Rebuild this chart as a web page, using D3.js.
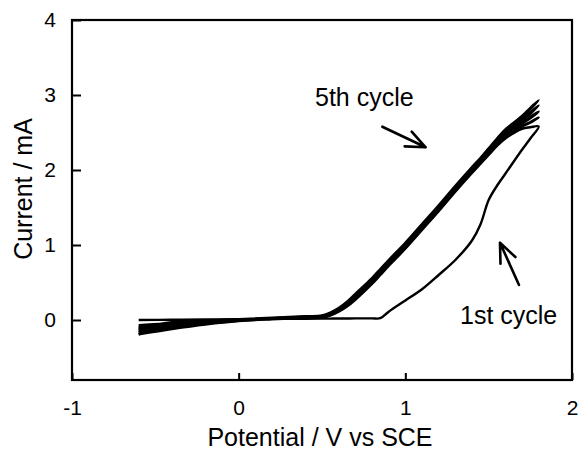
<!DOCTYPE html>
<html>
<head>
<meta charset="utf-8">
<script src="https://cdn.jsdelivr.net/npm/d3@7"></script>
<style>
  html, body { margin: 0; padding: 0; background: #fff; }
  svg { display: block; font-family: "Liberation Sans", Arial, sans-serif; }
</style>
</head>
<body>
<svg id="chart" width="579" height="454"></svg>
<script>
// Potential sweep grid (V vs SCE), shared by every half-cycle
const potential = [-0.6, -0.4, -0.2, 0, 0.2, 0.4, 0.5, 0.55, 0.6, 0.65, 0.7, 0.8, 0.85, 0.9,
                   1.0, 1.1, 1.2, 1.3, 1.4, 1.45, 1.5, 1.55, 1.6, 1.7, 1.75, 1.8];

// Current (mA) on the anodic (forward) and cathodic (reverse) sweeps of each cycle,
// listed in the order of the potential grid above.
const cycle1Forward = [0.00, 0.003, 0.006, 0.01, 0.013, 0.017, 0.018, 0.019, 0.02, 0.02, 0.021, 0.022, 0.024, 0.11,
                       0.26, 0.41, 0.60, 0.80, 1.06, 1.27, 1.60, 1.79, 1.95, 2.27, 2.42, 2.58];
const cycle1Reverse = [-0.19, -0.12, -0.06, -0.015, 0.01, 0.03, 0.04, 0.06, 0.11, 0.18, 0.27, 0.48, 0.60, 0.72,
                       0.95, 1.20, 1.45, 1.71, 1.96, 2.08, 2.20, 2.32, 2.42, 2.55, 2.57, 2.58];
const cycle2Forward = [-0.19, -0.06, -0.02, 0.00, 0.015, 0.035, 0.045, 0.07, 0.12, 0.19, 0.28, 0.49, 0.61, 0.73,
                       0.96, 1.21, 1.46, 1.72, 1.97, 2.09, 2.21, 2.33, 2.43, 2.58, 2.63, 2.70];
const cycle2Reverse = [-0.16, -0.10, -0.05, -0.01, 0.015, 0.035, 0.045, 0.07, 0.125, 0.20, 0.29, 0.50, 0.62, 0.74,
                       0.97, 1.22, 1.47, 1.73, 1.98, 2.10, 2.22, 2.34, 2.45, 2.59, 2.64, 2.70];
const cycle3Forward = [-0.16, -0.05, -0.015, 0.00, 0.02, 0.04, 0.05, 0.075, 0.13, 0.21, 0.30, 0.51, 0.63, 0.75,
                       0.98, 1.23, 1.48, 1.74, 1.99, 2.11, 2.23, 2.35, 2.46, 2.62, 2.69, 2.78];
const cycle3Reverse = [-0.13, -0.08, -0.04, -0.005, 0.02, 0.04, 0.05, 0.08, 0.14, 0.22, 0.31, 0.52, 0.64, 0.76,
                       0.99, 1.24, 1.49, 1.75, 2.00, 2.12, 2.24, 2.36, 2.48, 2.64, 2.71, 2.78];
const cycle4Forward = [-0.13, -0.04, -0.01, 0.005, 0.025, 0.045, 0.055, 0.085, 0.145, 0.23, 0.32, 0.53, 0.65, 0.77,
                       1.00, 1.25, 1.50, 1.76, 2.01, 2.13, 2.25, 2.37, 2.49, 2.66, 2.75, 2.86];
const cycle4Reverse = [-0.10, -0.06, -0.03, 0.00, 0.025, 0.045, 0.055, 0.09, 0.15, 0.235, 0.33, 0.54, 0.66, 0.78,
                       1.01, 1.26, 1.51, 1.77, 2.02, 2.14, 2.26, 2.39, 2.51, 2.68, 2.77, 2.86];
const cycle5Forward = [-0.10, -0.03, -0.005, 0.01, 0.03, 0.05, 0.06, 0.095, 0.155, 0.24, 0.34, 0.55, 0.67, 0.79,
                       1.02, 1.27, 1.52, 1.78, 2.03, 2.15, 2.27, 2.40, 2.52, 2.70, 2.81, 2.93];
const cycle5Reverse = [-0.07, -0.04, -0.02, 0.005, 0.03, 0.05, 0.06, 0.10, 0.16, 0.245, 0.35, 0.56, 0.68, 0.80,
                       1.03, 1.28, 1.53, 1.79, 2.04, 2.16, 2.29, 2.42, 2.54, 2.72, 2.83, 2.93];

const cycles = [
  [cycle1Forward, cycle1Reverse],
  [cycle2Forward, cycle2Reverse],
  [cycle3Forward, cycle3Reverse],
  [cycle4Forward, cycle4Reverse],
  [cycle5Forward, cycle5Reverse]
];

// Axis ticks
const xTicks = [-1, 0, 1, 2];
const yTicks = [0, 1, 2, 3, 4];

// Annotations (data coordinates)
const notes = [
  { text: "5th cycle", x: 0.458, y: 2.853, from: [0.862, 2.577], to: [1.122, 2.303] },
  { text: "1st cycle", x: 1.328, y: -0.053, from: [1.682, 0.467], to: [1.568, 1.03] }
];

const svg = d3.select("#chart");
const plotLeft = 72, plotRight = 572, plotTop = 20, plotBottom = 380;

const x = d3.scaleLinear().domain([-1, 2]).range([plotLeft, plotRight]);
const y = d3.scaleLinear().domain([-0.8, 4]).range([plotBottom, plotTop]);

// Voltammogram: each cycle sweeps forward to 1.8 V and back to -0.6 V
const line = d3.line()
  .x(d => x(d[0]))
  .y(d => y(d[1]))
  .curve(d3.curveCatmullRom.alpha(0.5));

cycles.forEach(([fwd, rev]) => {
  const pts = potential.map((v, i) => [v, fwd[i]]);
  const back = potential.map((v, i) => [v, rev[i]]).reverse().slice(1);
  svg.append("path")
    .attr("d", line(pts.concat(back)))
    .attr("fill", "none")
    .attr("stroke", "#000")
    .attr("stroke-width", 2.4)
    .attr("stroke-linejoin", "round");
});

// Axes with inward ticks
const xAxis = svg.append("g")
  .attr("transform", `translate(0,${plotBottom})`)
  .call(d3.axisBottom(x).tickValues(xTicks).tickFormat(d => String(d))
    .tickSizeInner(-7).tickSizeOuter(0).tickPadding(20));
const yAxis = svg.append("g")
  .attr("transform", `translate(${plotLeft},0)`)
  .call(d3.axisLeft(y).tickValues(yTicks).tickFormat(d => String(d))
    .tickSizeInner(-9).tickSizeOuter(0).tickPadding(16));

[xAxis, yAxis].forEach(g => {
  g.select(".domain").remove();
  g.selectAll(".tick line").attr("stroke", "#000").attr("stroke-width", 2);
  g.selectAll(".tick text").attr("fill", "#000").style("font-size", "21px")
    .style("font-family", "'Liberation Sans', Arial, sans-serif");
});

// Plot frame
svg.append("rect")
  .attr("x", plotLeft).attr("y", plotTop)
  .attr("width", plotRight - plotLeft).attr("height", plotBottom - plotTop)
  .attr("fill", "none").attr("stroke", "#000").attr("stroke-width", 2.2);

// Axis titles
svg.append("text")
  .attr("x", 320).attr("y", 446)
  .attr("text-anchor", "middle")
  .style("font-size", "25px")
  .text("Potential / V vs SCE");
svg.append("text")
  .attr("transform", "translate(32,189) rotate(-90)")
  .attr("text-anchor", "middle")
  .style("font-size", "25px")
  .text("Current / mA");

// Annotations with open arrowheads
notes.forEach(n => {
  svg.append("text")
    .attr("x", x(n.x)).attr("y", y(n.y))
    .style("font-size", "25px")
    .text(n.text);
  const x0 = x(n.from[0]), y0 = y(n.from[1]);
  const x1 = x(n.to[0]), y1 = y(n.to[1]);
  const ang = Math.atan2(y1 - y0, x1 - x0);
  const len = 21, spread = 0.4;
  const b1 = [x1 - len * Math.cos(ang - spread), y1 - len * Math.sin(ang - spread)];
  const b2 = [x1 - len * Math.cos(ang + spread), y1 - len * Math.sin(ang + spread)];
  svg.append("path")
    .attr("d", `M${x0},${y0}L${x1},${y1}M${b1[0]},${b1[1]}L${x1},${y1}L${b2[0]},${b2[1]}`)
    .attr("fill", "none")
    .attr("stroke", "#000")
    .attr("stroke-width", 2.6)
    .attr("stroke-linecap", "round")
    .attr("stroke-linejoin", "round");
});
</script>
</body>
</html>
